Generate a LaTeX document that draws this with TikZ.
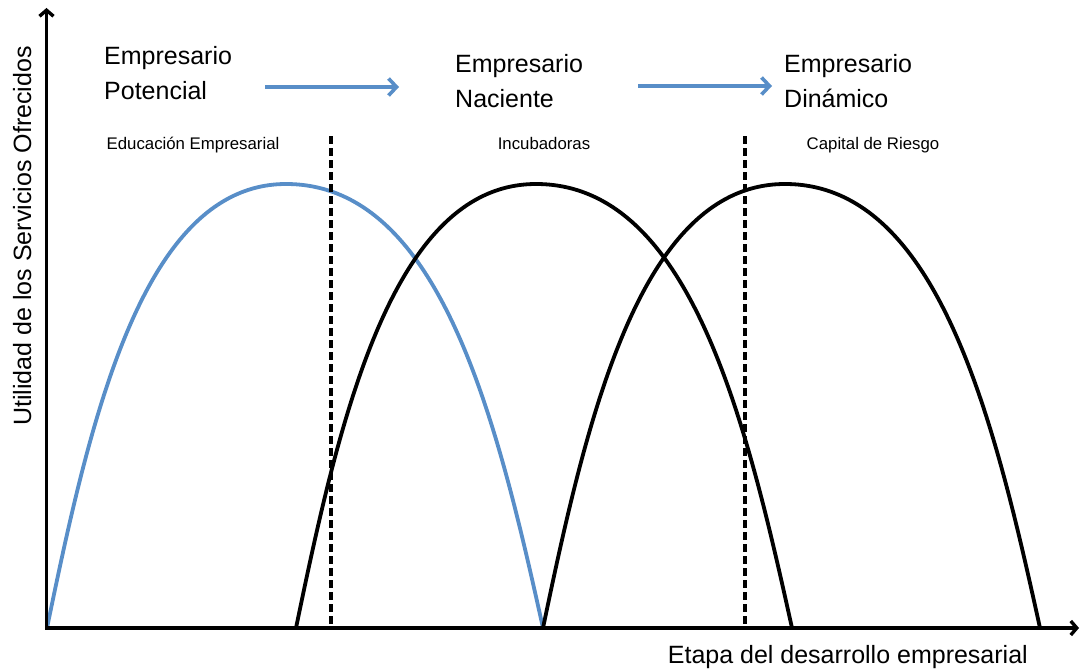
\documentclass[tikz,border=0pt]{standalone}
\usepackage{fontspec}
\setmainfont{Liberation Sans}
\usetikzlibrary{arrows.meta}
\definecolor{stageblue}{RGB}{88,142,200}

% One service-utility hump: #1 style, #2 start x, #3 peak x, #4 end x
\newcommand{\servicecurve}[4]{%
  \pgfmathsetmacro{\scA}{#2+0.18*(#3-#2)}%
  \pgfmathsetmacro{\scB}{#2+0.40*(#3-#2)}%
  \pgfmathsetmacro{\scC}{#4-0.40*(#4-#3)}%
  \pgfmathsetmacro{\scD}{#4-0.18*(#4-#3)}%
  \draw[hump,#1] (#2,628) .. controls (\scA,419.3) and (\scB,184) .. (#3,184)
                          .. controls (\scC,184) and (\scD,419.3) .. (#4,628);%
}

\begin{document}
\begin{tikzpicture}[x=1pt,y=-1pt,
  axis/.style={line width=3.4pt,
    {Straight Barb[length=6pt,width=14pt]}-{Straight Barb[length=6pt,width=14pt]}},
  hump/.style={line width=3.8pt, black},
  divider/.style={line width=3.2pt, dash pattern=on 8pt off 4pt},
  flow/.style={stageblue, line width=3.6pt, -{Straight Barb[length=8pt,width=17pt]}},
  stage/.style={align=left, anchor=north west, inner sep=0pt,
    font=\fontsize{25}{35}\selectfont},
  service/.style={anchor=base, inner sep=0pt, font=\fontsize{16.8}{20}\selectfont},
  axislabel/.style={inner sep=0pt, font=\fontsize{25}{30}\selectfont}]

\useasboundingbox (0,0) rectangle (1081,669);

% stage titles and the flow between them
\node[stage] (potencial) at (104,46) {Empresario\\Potencial};
\node[stage] (naciente)  at (455,54) {Empresario\\Naciente};
\node[stage] (dinamico)  at (784,54) {Empresario\\Dinámico};

\coordinate (f1s) at (265,87);
\coordinate (f1e) at (399,87);
\coordinate (f2s) at (638,86);
\coordinate (f2e) at (772,86);
\draw[flow] (f1s) -- (f1e);
\draw[flow] (f2s) -- (f2e);

% support services
\node[service] (edu)     at (193,149) {Educación Empresarial};
\node[service] (incu)    at (544,149) {Incubadoras};
\node[service] (capital) at (873,149) {Capital de Riesgo};

% utility curves
\servicecurve{stageblue}{47}{286}{543}
\servicecurve{}{296}{536}{792}
\servicecurve{}{543}{785}{1040}

% stage boundaries
\coordinate (d1t) at (331,136);
\coordinate (d1b) at (331,628);
\coordinate (d2t) at (745,136);
\coordinate (d2b) at (745,628);
\draw[divider] (d1t) -- (d1b);
\draw[divider] (d2t) -- (d2b);

% axes
\coordinate (origin) at (46.5,628);
\coordinate (ytop) at (46.5,8);
\coordinate (xend) at (1079,628);
\draw[axis] (ytop) -- (origin) -- (xend);

\node[axislabel, rotate=90, anchor=base] (ylab) at (31,236)
  {Utilidad de los Servicios Ofrecidos};
\node[axislabel, anchor=base east] (xlab) at (1028,663)
  {Etapa del desarrollo empresarial};
\end{tikzpicture}
\end{document}
